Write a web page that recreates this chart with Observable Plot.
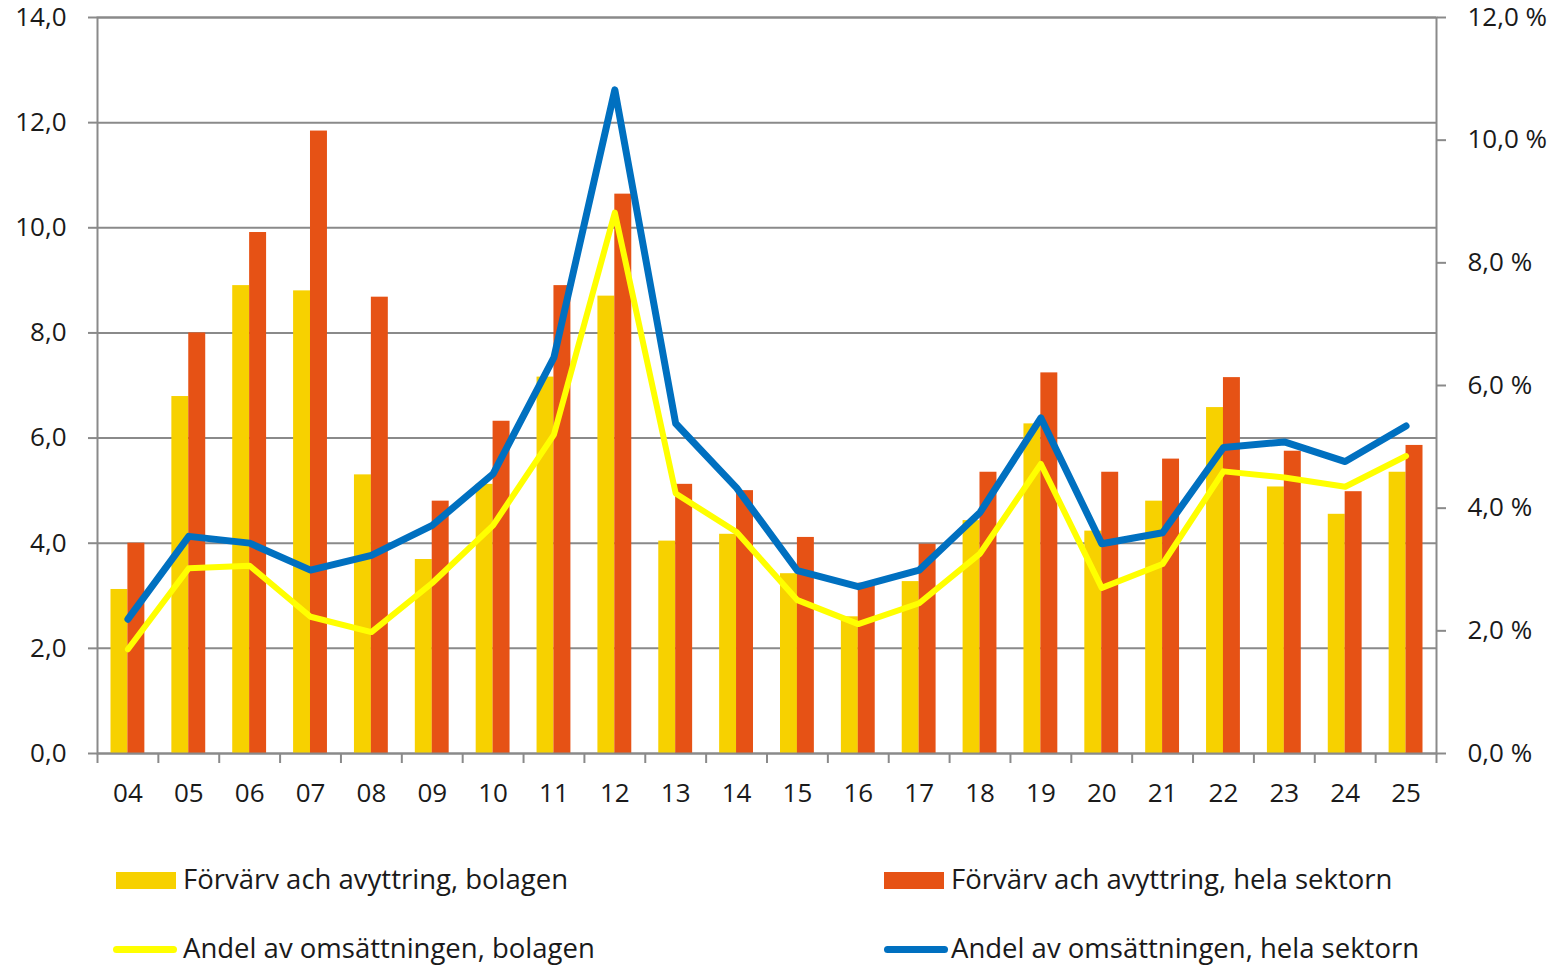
<!DOCTYPE html>
<html>
<head>
<meta charset="utf-8">
<script src="https://cdn.jsdelivr.net/npm/d3@7"></script>
<script src="https://cdn.jsdelivr.net/npm/@observablehq/plot@0.6"></script>
<style>
  html, body { margin: 0; padding: 0; background: #fff; }
  #wrap { position: relative; width: 1557px; height: 967px; font-family: "Open Sans", Lato, sans-serif; color: #1a1a1a; }
  .sw { position: absolute; }
  .lt { position: absolute; font-size: 27.5px; line-height: 32px; white-space: nowrap; }
</style>
</head>
<body>
<div id="wrap"></div>
<script>
// ---- data ----
const years = ["04","05","06","07","08","09","10","11","12","13","14","15","16","17","18","19","20","21","22","23","24","25"];
const barsBolagen = [3.12, 6.79, 8.90, 8.80, 5.30, 3.69, 5.12, 7.16, 8.70, 4.04, 4.17, 3.42, 2.60, 3.27, 4.43, 6.27, 4.23, 4.80, 6.58, 5.07, 4.55, 5.35];
const barsSektor  = [4.00, 8.00, 9.91, 11.84, 8.68, 4.80, 6.32, 8.90, 10.64, 5.12, 5.00, 4.11, 3.24, 3.98, 5.35, 7.24, 5.35, 5.60, 7.15, 5.75, 4.98, 5.86];
const shareBolagen = [1.70, 3.02, 3.06, 2.23, 1.98, 2.78, 3.72, 5.20, 8.82, 4.24, 3.61, 2.50, 2.11, 2.45, 3.26, 4.72, 2.70, 3.09, 4.60, 4.50, 4.35, 4.85];
const shareSektor  = [2.19, 3.54, 3.43, 2.99, 3.23, 3.72, 4.56, 6.46, 10.82, 5.38, 4.33, 2.98, 2.72, 2.99, 3.93, 5.47, 3.42, 3.60, 4.99, 5.08, 4.76, 5.34];
const leftTicks = [0, 2, 4, 6, 8, 10, 12, 14];
const leftTickLabels = ["0,0", "2,0", "4,0", "6,0", "8,0", "10,0", "12,0", "14,0"];
const rightTicks = [0, 2, 4, 6, 8, 10, 12];
const rightTickLabels = ["0,0 %", "2,0 %", "4,0 %", "6,0 %", "8,0 %", "10,0 %", "12,0 %"];
const seriesNames = ["Förvärv ach avyttring, bolagen", "Förvärv ach avyttring, hela sektorn", "Andel av omsättningen, bolagen", "Andel av omsättningen, hela sektorn"];

const leftMax = 14, rightMax = 12, k = leftMax / rightMax;
const colYellowBar = "#F7D100", colRed = "#E65215", colYellowLine = "#FFFF00", colBlue = "#0070C0";
const gray = "#8a8a8a";

const table = years.map((y, i) => ({
  year: y,
  bolagen: barsBolagen[i],
  sektor: barsSektor[i],
  shareB: shareBolagen[i] * k,
  shareS: shareSektor[i] * k
}));

const W = 1557, H = 820, mL = 97, mR = 121, mT = 17, mB = 67;
const half = (W - mL - mR) / years.length / 2;

const chart = Plot.plot({
  width: W, height: H,
  marginLeft: mL, marginRight: mR, marginTop: mT, marginBottom: mB,
  x: {type: "band", domain: years, padding: 0, round: false},
  y: {domain: [0, leftMax]},
  style: {fontFamily: "'Open Sans', Lato, sans-serif", fontSize: "26px", color: "#1a1a1a", background: "white", overflow: "visible"},
  marks: [
    Plot.gridY(leftTicks, {stroke: gray, strokeOpacity: 1, strokeWidth: 2}),
    Plot.barY(table, {x: "year", y: "bolagen", fill: colYellowBar, insetLeft: 13.5, insetRight: 30.4}),
    Plot.barY(table, {x: "year", y: "sektor", fill: colRed, insetLeft: 30.4, insetRight: 13.5}),
    Plot.line(table, {x: "year", y: "shareB", stroke: colYellowLine, strokeWidth: 6}),
    Plot.line(table, {x: "year", y: "shareS", stroke: colBlue, strokeWidth: 7}),
    Plot.frame({stroke: gray, strokeWidth: 2}),
    Plot.axisY({ticks: leftTicks, tickFormat: (d) => leftTickLabels[leftTicks.indexOf(d)], tickSize: 9, tickPadding: 22, stroke: gray, strokeWidth: 2, label: null, fontSize: 26}),
    Plot.axisY({anchor: "right", ticks: rightTicks.map(p => p * k), tickFormat: (d) => rightTickLabels[rightTicks.findIndex(p => Math.abs(p * k - d) < 1e-9)], tickSize: 9, tickPadding: 22, stroke: gray, strokeWidth: 2, label: null, fontSize: 26}),
    Plot.axisX({tickSize: 0, tickPadding: 30, label: null, fontSize: 26}),
    Plot.axisX({tickSize: 10, tickFormat: () => "", dx: -half, stroke: gray, strokeWidth: 2, label: null}),
    Plot.axisX({ticks: [years[years.length - 1]], tickSize: 10, tickFormat: () => "", dx: half, stroke: gray, strokeWidth: 2, label: null})
  ]
});

const wrap = document.getElementById("wrap");
wrap.appendChild(chart);

// ---- legend (HTML, below the SVG) ----
const legendItems = [
  {name: seriesNames[0], color: colYellowBar, kind: "rect", left: 116, cy: 880},
  {name: seriesNames[1], color: colRed, kind: "rect", left: 884, cy: 880},
  {name: seriesNames[2], color: colYellowLine, kind: "line", left: 113, cy: 949},
  {name: seriesNames[3], color: colBlue, kind: "line", left: 884, cy: 949}
];
for (const it of legendItems) {
  const sw = document.createElement("div");
  sw.className = "sw";
  sw.style.background = it.color;
  if (it.kind === "rect") {
    sw.style.left = it.left + "px"; sw.style.width = "60px";
    sw.style.top = (it.cy - 8.5) + "px"; sw.style.height = "17px";
  } else {
    sw.style.left = it.left + "px"; sw.style.width = "64px";
    sw.style.top = (it.cy - 3.5) + "px"; sw.style.height = "7px";
    sw.style.borderRadius = "3.5px";
  }
  wrap.appendChild(sw);
  const t = document.createElement("div");
  t.className = "lt";
  t.textContent = it.name;
  t.style.left = (it.left < 500 ? 183 : 951) + "px";
  t.style.top = (it.cy - 17) + "px";
  wrap.appendChild(t);
}
</script>
</body>
</html>
